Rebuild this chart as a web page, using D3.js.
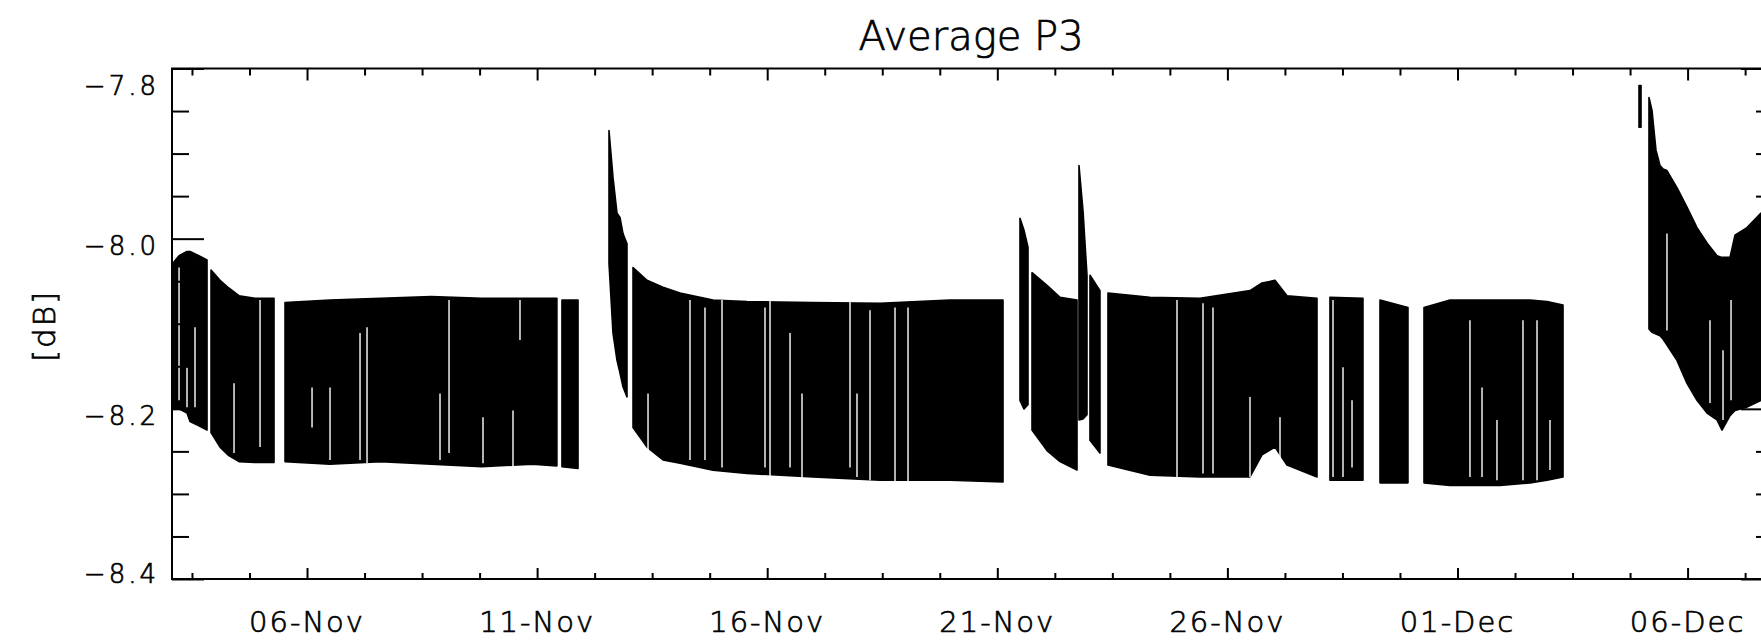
<!DOCTYPE html>
<html><head><meta charset="utf-8">
<script src="https://cdn.jsdelivr.net/npm/d3@7"></script>
<style>
html,body{margin:0;padding:0;background:#fff;}
svg{display:block;}
text{font-family:"DejaVu Sans ExtraLight","DejaVu Sans Light","DejaVu Sans",sans-serif;font-weight:200;fill:#000;stroke:#000;stroke-width:0.7px;}
</style></head><body><svg id="chart" width="1761" height="640"></svg>
<script>
const chartTitle = "Average P3";
const yTitle = "[dB]";
// time axis: days since 01-Nov 00:00
const xDomain = [2.066, 36.856];
const yDomain = [-8.4, -7.8];
const yMajorTicks = [-7.8, -8.0, -8.2, -8.4];
const yTickLabels = ["\u22127.8", "\u22128.0", "\u22128.2", "\u22128.4"];
const yMinorStep = 0.05;
const xMajorTicks = [5, 10, 15, 20, 25, 30, 35];
const xTickLabels = ["06-Nov", "11-Nov", "16-Nov", "21-Nov", "26-Nov", "01-Dec", "06-Dec"];
const xMinorStep = 1.25;

// envelope (max / min) of the sampled P3 values, null = data gap
const sampleTime = [
  2.066, 2.219, 2.392, 2.458, 2.650, 2.827, 2.87,
  2.914, 3.110, 3.300, 3.522, 3.870, 4.283, 4.40,
  4.522, 5.500, 6.600, 7.700, 8.800, 9.900, 10.430, 10.48, 10.540, 10.889, 11.2,
  11.562, 11.649, 11.736, 11.801, 11.866, 11.953, 12.02,
  12.084, 12.388, 12.736, 13.105, 13.822, 14.561, 15.995, 17.451, 18.972, 20.124, 20.3,
  20.493, 20.580, 20.667, 20.71,
  20.754, 21.080, 21.363, 21.732, 21.75,
  21.775, 21.862, 21.949, 21.98,
  22.014, 22.231, 22.32,
  22.405, 23.318, 24.404, 25.491, 25.752, 26.034, 26.295, 26.947, 27.09,
  27.229, 27.946, 28.13,
  28.316, 28.924, 29.10,
  29.272, 29.837, 30.924, 31.576, 31.945, 32.293, 33.0,
  33.944, 33.988, 34.05,
  34.161, 34.226, 34.313, 34.400, 34.465, 34.552, 34.769, 34.987, 35.204, 35.422, 35.639, 35.748, 35.922, 36.030, 36.291, 36.595, 36.856
];
const upperDb = [
  -8.030, -8.020, -8.015, -8.015, -8.020, -8.025, null,
  -8.037, -8.049, -8.058, -8.067, -8.070, -8.070, null,
  -8.075, -8.072, -8.070, -8.068, -8.070, -8.070, -8.070, null, -8.072, -8.072, null,
  -7.873, -7.928, -7.970, -7.975, -7.994, -8.006, null,
  -8.034, -8.049, -8.057, -8.064, -8.072, -8.074, -8.075, -8.076, -8.072, -8.072, null,
  -7.976, -7.990, -8.010, null,
  -8.040, -8.055, -8.069, -8.072, null,
  -7.914, -7.967, -8.043, null,
  -8.043, -8.061, null,
  -8.064, -8.069, -8.070, -8.061, -8.052, -8.049, -8.067, -8.070, null,
  -8.069, -8.070, null,
  -8.072, -8.081, null,
  -8.081, -8.072, -8.072, -8.072, -8.074, -8.078, null,
  -7.820, -7.820, null,
  -7.834, -7.849, -7.896, -7.914, -7.918, -7.920, -7.940, -7.963, -7.987, -8.005, -8.020, -8.022, -8.022, -7.996, -7.987, -7.970, -7.961
];
const lowerDb = [
  -8.200, -8.200, -8.205, -8.215, -8.220, -8.225, null,
  -8.228, -8.245, -8.255, -8.262, -8.263, -8.263, null,
  -8.262, -8.265, -8.262, -8.265, -8.268, -8.265, -8.267, null, -8.268, -8.270, null,
  -8.029, -8.111, -8.143, -8.158, -8.174, -8.186, null,
  -8.222, -8.245, -8.260, -8.264, -8.272, -8.276, -8.280, -8.284, -8.284, -8.286, null,
  -8.190, -8.200, -8.195, null,
  -8.225, -8.249, -8.262, -8.272, null,
  -8.213, -8.212, -8.207, null,
  -8.237, -8.252, null,
  -8.266, -8.278, -8.280, -8.280, -8.254, -8.245, -8.266, -8.280, null,
  -8.284, -8.284, null,
  -8.287, -8.287, null,
  -8.287, -8.290, -8.290, -8.287, -8.284, -8.280, null,
  -7.869, -7.869, null,
  -8.106, -8.110, -8.112, -8.114, -8.118, -8.125, -8.143, -8.170, -8.190, -8.205, -8.213, -8.225, -8.208, -8.202, -8.198, -8.190, -8.188
];
// short dropouts visible as white streaks inside the band
const dropTime = [2.219, 2.392, 2.566, 3.414, 3.979, 5.109, 5.500, 6.152, 6.304, 7.890, 8.086, 8.824, 9.476, 9.628,
  12.410, 13.322, 13.648, 14.018, 14.952, 15.061, 15.496, 15.756, 16.799, 16.951, 17.234, 17.777, 18.060,
  23.905, 24.470, 24.687, 25.491, 26.143, 27.295, 27.512, 27.708,
  30.271, 30.533, 30.858, 31.423, 31.728, 32.010, 34.552, 35.487, 35.770, 35.944];
const dropTop = [-8.034, -8.151, -8.104, -8.170, -8.072, -8.175, -8.175, -8.111, -8.104, -8.182, -8.072, -8.210, -8.202, -8.072,
  -8.182, -8.072, -8.081, -8.072, -8.081, -8.072, -8.111, -8.182, -8.072, -8.182, -8.084, -8.081, -8.081,
  -8.072, -8.076, -8.081, -8.186, -8.210, -8.072, -8.151, -8.190,
  -8.096, -8.175, -8.213, -8.096, -8.096, -8.213, -7.994, -8.096, -8.131, -8.072];
const dropBottom = [-8.190, -8.198, -8.198, -8.252, -8.245, -8.222, -8.260, -8.260, -8.264, -8.260, -8.252, -8.264, -8.269, -8.119,
  -8.249, -8.260, -8.260, -8.269, -8.269, -8.280, -8.269, -8.284, -8.269, -8.280, -8.284, -8.287, -8.287,
  -8.280, -8.276, -8.276, -8.280, -8.269, -8.280, -8.280, -8.269,
  -8.280, -8.280, -8.284, -8.284, -8.284, -8.272, -8.108, -8.193, -8.213, -8.190];

const W = 1761, H = 640;
const L = 172, R = 1773, T = 68.5, B = 579;
const svg = d3.select("#chart");
const x = d3.scaleLinear().domain(xDomain).range([L, R]);
const y = d3.scaleLinear().domain(yDomain).range([B, T]);

svg.append("defs").append("clipPath").attr("id", "plotclip")
  .append("rect").attr("x", L).attr("y", T).attr("width", R - L).attr("height", B - T);

const pts = sampleTime.map((t, i) => ({t, hi: upperDb[i], lo: lowerDb[i]}));
const area = d3.area()
  .defined(d => d.hi != null && d.lo != null)
  .x(d => x(d.t)).y0(d => y(d.lo)).y1(d => y(d.hi));
const g = svg.append("g").attr("clip-path", "url(#plotclip)");
g.append("path").datum(pts).attr("d", area)
  .attr("fill", "#000").attr("stroke", "#000").attr("stroke-width", 1.6).attr("stroke-linejoin", "round");
g.selectAll("line.drop").data(dropTime).join("line").attr("class", "drop")
  .attr("x1", d => x(d)).attr("x2", d => x(d))
  .attr("y1", (d, i) => y(dropTop[i])).attr("y2", (d, i) => y(dropBottom[i]))
  .attr("stroke", "#fff").attr("stroke-width", 1.4);

// minor tick values
const yMinor = d3.range(Math.round((yDomain[1] - yDomain[0]) / yMinorStep) + 1)
  .map(i => +(yDomain[0] + i * yMinorStep).toFixed(3))
  .filter(v => !yMajorTicks.some(m => Math.abs(m - v) < 1e-6));
const xMinor = d3.range(-4, 40).map(i => xMajorTicks[0] + i * xMinorStep)
  .filter(v => v >= xDomain[0] && v <= xDomain[1] && !xMajorTicks.some(m => Math.abs(m - v) < 1e-6));

function styleAxis(sel) {
  sel.select(".domain").remove();
  sel.selectAll("line").attr("stroke", "#000").attr("stroke-width", 2);
  sel.selectAll("text").remove();
}
const ax = svg.append("g");
ax.append("g").attr("transform", `translate(${L},0)`).call(d3.axisLeft(y).tickValues(yMajorTicks).tickSize(-32)).call(styleAxis);
ax.append("g").attr("transform", `translate(${L},0)`).call(d3.axisLeft(y).tickValues(yMinor).tickSize(-17)).call(styleAxis);
ax.append("g").attr("transform", `translate(${R},0)`).call(d3.axisRight(y).tickValues(yMajorTicks).tickSize(-32)).call(styleAxis);
ax.append("g").attr("transform", `translate(${R},0)`).call(d3.axisRight(y).tickValues(yMinor).tickSize(-17)).call(styleAxis);
ax.append("g").attr("transform", `translate(0,${B})`).call(d3.axisBottom(x).tickValues(xMajorTicks).tickSize(-11)).call(styleAxis);
ax.append("g").attr("transform", `translate(0,${B})`).call(d3.axisBottom(x).tickValues(xMinor).tickSize(-6)).call(styleAxis);
ax.append("g").attr("transform", `translate(0,${T})`).call(d3.axisTop(x).tickValues(xMajorTicks).tickSize(-12)).call(styleAxis);
ax.append("g").attr("transform", `translate(0,${T})`).call(d3.axisTop(x).tickValues(xMinor).tickSize(-7)).call(styleAxis);

// frame
svg.append("rect").attr("x", L).attr("y", T).attr("width", R - L).attr("height", B - T)
  .attr("fill", "none").attr("stroke", "#000").attr("stroke-width", 2);

// tick labels
svg.selectAll("text.ylab").data(yMajorTicks).join("text").attr("class", "ylab")
  .attr("x", 159).attr("y", d => Math.min(Math.max(y(d) + 16, T + 26.5), B + 4))
  .attr("text-anchor", "end").attr("font-size", 26).attr("letter-spacing", 3)
  .text((d, i) => yTickLabels[i]);
svg.selectAll("text.xlab").data(xMajorTicks).join("text").attr("class", "xlab")
  .attr("x", d => x(d)).attr("y", 632)
  .attr("text-anchor", "middle").attr("font-size", 29).attr("letter-spacing", 2)
  .text((d, i) => xTickLabels[i]);

svg.append("text").attr("x", 971).attr("y", 50).attr("text-anchor", "middle")
  .attr("font-size", 40).text(chartTitle);
svg.append("text").attr("transform", "translate(55,326) rotate(-90)").attr("text-anchor", "middle")
  .attr("font-size", 31).attr("letter-spacing", 2).text(yTitle);
</script></body></html>
